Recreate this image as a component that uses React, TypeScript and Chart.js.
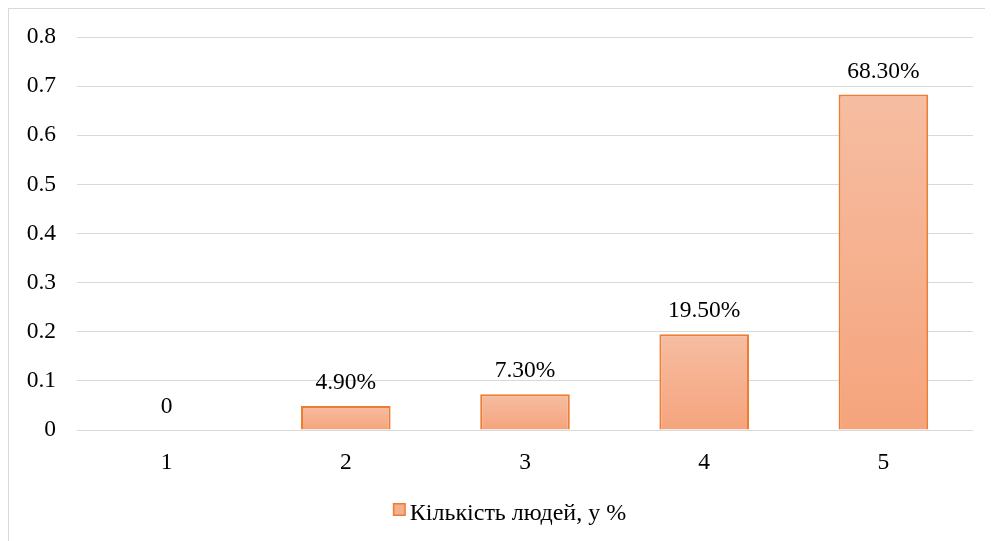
import React, { useEffect, useRef } from "react";
import { Chart, registerables } from "chart.js";

Chart.register(...registerables);

const categories = ["1", "2", "3", "4", "5"];
const shares = [0, 0.049, 0.073, 0.195, 0.683];
const seriesName = "Кількість людей, у %";
const yTicks = [0, 0.1, 0.2, 0.3, 0.4, 0.5, 0.6, 0.7, 0.8];

const FONT = "'Liberation Serif', 'Times New Roman', serif";
const FONT_SIZE = 23.5;
const LEGEND_FONT_SIZE = 24;
const BAR_TOP = "#f6bda2";
const BAR_BOTTOM = "#f5a47c";
const BAR_EDGE = "#ed7d31";
const LEGEND_FILL = "#f4b08e";

const formatShare = (v: number) => (v === 0 ? "0" : (v * 100).toFixed(2) + "%");

// small swatch used as the legend marker, drawn close to the label text
function makeSwatch(): HTMLCanvasElement {
  const c = document.createElement("canvas");
  c.width = 26;
  c.height = 24;
  const g = c.getContext("2d")!;
  g.fillStyle = LEGEND_FILL;
  g.fillRect(9, 1, 13, 13);
  g.strokeStyle = BAR_EDGE;
  g.lineWidth = 1.5;
  g.strokeRect(9.75, 1.75, 11.5, 11.5);
  return c;
}

const valueLabels = {
  id: "valueLabels",
  afterDatasetsDraw(chart: any) {
    const { ctx } = chart;
    const meta = chart.getDatasetMeta(0);
    ctx.save();
    ctx.font = `${FONT_SIZE}px ${FONT}`;
    ctx.fillStyle = "#000";
    ctx.textAlign = "center";
    ctx.textBaseline = "middle";
    meta.data.forEach((bar: any, i: number) => {
      ctx.fillText(formatShare(shares[i]), bar.x, bar.y - 23);
    });
    ctx.restore();
  },
};

// nudge the legend row sideways so it sits under the plot
const legendOffset = {
  id: "legendOffset",
  afterLayout(chart: any) {
    const lg = chart.legend;
    if (!lg) return;
    lg.left += 20;
    lg.right += 20;
  },
};

export default function App() {
  const ref = useRef<HTMLCanvasElement>(null);

  useEffect(() => {
    if (!ref.current) return;
    const swatch = makeSwatch();
    const chart = new Chart(ref.current, {
      type: "bar",
      data: {
        labels: categories,
        datasets: [
          {
            label: seriesName,
            data: shares,
            backgroundColor: (c: any) => {
              const ch = c.chart;
              const y = ch.scales && ch.scales.y;
              if (!y || c.type !== "data") return BAR_BOTTOM;
              const top = y.getPixelForValue(c.raw);
              const base = y.getPixelForValue(0);
              if (!isFinite(top) || !isFinite(base) || Math.abs(base - top) < 1) return BAR_BOTTOM;
              const g = ch.ctx.createLinearGradient(0, top, 0, base);
              g.addColorStop(0, BAR_TOP);
              g.addColorStop(1, BAR_BOTTOM);
              return g;
            },
            borderColor: BAR_EDGE,
            borderWidth: 2,
            barPercentage: 1,
            categoryPercentage: 0.5,
          },
        ],
      },
      options: {
        animation: false,
        responsive: false,
        maintainAspectRatio: false,
        layout: { padding: { left: 0, right: 20, top: 28, bottom: 5 } },
        scales: {
          x: {
            grid: { display: false, drawTicks: false },
            border: { display: false },
            ticks: { color: "#000", font: { family: FONT, size: FONT_SIZE }, padding: 19 },
            afterFit: (s: any) => {
              s.height = 62;
            },
          },
          y: {
            min: 0,
            max: 0.8,
            afterBuildTicks: (s: any) => {
              s.ticks = yTicks.map((v) => ({ value: v }));
            },
            grid: { color: "#d9d9d9", lineWidth: 1, drawTicks: false },
            border: { display: false },
            ticks: {
              color: "#000",
              font: { family: FONT, size: FONT_SIZE },
              padding: 21,
              callback: (v: any) => String(Math.round(Number(v) * 10) / 10),
            },
            afterFit: (s: any) => {
              s.width = 68;
              s.paddingTop = 14;
              s.paddingBottom = 0;
            },
          },
        },
        plugins: {
          tooltip: { enabled: false },
          legend: {
            position: "bottom",
            labels: {
              color: "#000",
              font: { family: FONT, size: LEGEND_FONT_SIZE },
              usePointStyle: true,
              pointStyleWidth: 2,
              boxHeight: 13,
              padding: 10,
              generateLabels: () => [
                {
                  text: seriesName,
                  fillStyle: LEGEND_FILL,
                  strokeStyle: BAR_EDGE,
                  lineWidth: 1.5,
                  pointStyle: swatch,
                  datasetIndex: 0,
                  hidden: false,
                },
              ],
            },
          },
        },
      },
      plugins: [valueLabels, legendOffset],
    });
    return () => chart.destroy();
  }, []);

  return (
    <div style={{ width: 985, height: 533, overflow: "hidden" }}>
      <div
        style={{
          width: 1000,
          height: 560,
          border: "1px solid #d9d9d9",
          boxSizing: "border-box",
          background: "#fff",
        }}
      >
        <canvas ref={ref} width={984} height={532} style={{ display: "block" }} />
      </div>
    </div>
  );
}
